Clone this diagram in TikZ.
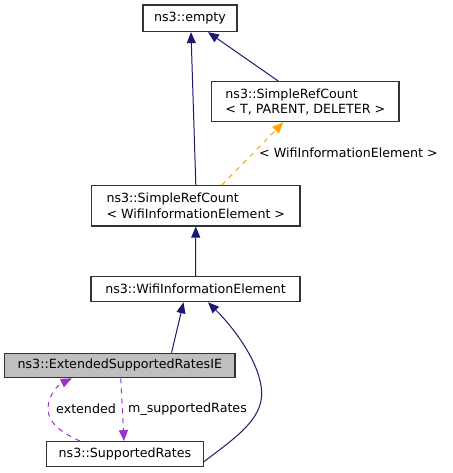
\documentclass[tikz,border=0pt]{standalone}
\usepackage{fontspec}
\setmainfont{DejaVu Sans}
\usetikzlibrary{arrows.meta,calc}
\definecolor{navy}{HTML}{191970}
\definecolor{orch}{HTML}{9A32CD}
\definecolor{orng}{HTML}{FFA500}
\definecolor{grayfill}{HTML}{BFBFBF}
\tikzset{
  box/.style={draw=black!80, line width=1.2pt, fill=white, inner sep=0pt, align=left,
    font=\fontsize{12.65pt}{15.3pt}\selectfont},
  inh/.style={draw=navy, line width=1pt, -{Triangle[length=11pt,width=9pt]}},
  tmpl/.style={draw=orng, line width=1pt, dash pattern=on 5pt off 5pt, -{Triangle[length=11pt,width=9pt]}},
  use/.style={draw=orch, line width=1pt, dash pattern=on 5pt off 5pt, -{Triangle[length=11pt,width=9pt]}},
  lbl/.style={inner sep=0pt, font=\fontsize{12.65pt}{15.3pt}\selectfont}
}
\begin{document}
\begin{tikzpicture}[x=1pt,y=-1pt]
\useasboundingbox (0,0) rectangle (452,473);
\node[box, minimum width=94pt, minimum height=26.5pt] (empty) at (190,18.3) {ns3::empty};
\node[box, minimum width=187.3pt, minimum height=40pt] (srct) at (305.3,101.7) {ns3::SimpleRefCount\\\textless{} T, PARENT, DELETER \textgreater};
\node[box, minimum width=208.3pt, minimum height=40.3pt] (srcw) at (195.8,205.8) {ns3::SimpleRefCount\\\textless{} WifiInformationElement \textgreater};
\node[box, minimum width=209pt, minimum height=25pt] (wie) at (195.5,289.2) {ns3::WifiInformationElement};
\node[box, fill=grayfill, minimum width=230.3pt, minimum height=24.4pt] (esr) at (119.8,365.5) {ns3::ExtendedSupportedRatesIE};
\node[box, minimum width=156.6pt, minimum height=25pt] (sr) at (125,454.2) {ns3::SupportedRates};

\draw[inh] (srcw.north) -- ([xshift=1pt]empty.south);
\draw[inh] ([xshift=-27pt]srct.north) -- ([xshift=18pt]empty.south);
\draw[tmpl] ([xshift=26pt]srcw.north) -- ([xshift=-22pt]srct.south);
\node[lbl, anchor=west] (tlbl) at (259,153) {\textless{} WifiInformationElement \textgreater};
\draw[inh] (wie.north) -- (srcw.south);
\draw[inh] ([xshift=-64pt]esr.north east) -- ([xshift=-12pt]wie.south);
\draw[inh] ([yshift=-7.5pt]sr.east) .. controls (235,438) and (262,420) .. (261.7,393)
   .. controls (261,365) and (236,330) .. ([xshift=12.5pt]wie.south);
\draw[use] ([xshift=1pt]esr.south) -- ([xshift=-1pt]sr.north);
\node[lbl, anchor=west] (mlbl) at (128,409) {m\_supportedRates};
\draw[use] ([xshift=-45pt]sr.north) .. controls (60,432) and (48,422) .. (48,409)
   .. controls (48,395) and (58,385) .. ([xshift=-48pt]esr.south);
\node[lbl, anchor=west] (elbl) at (56,409) {extended};
\end{tikzpicture}
\end{document}
